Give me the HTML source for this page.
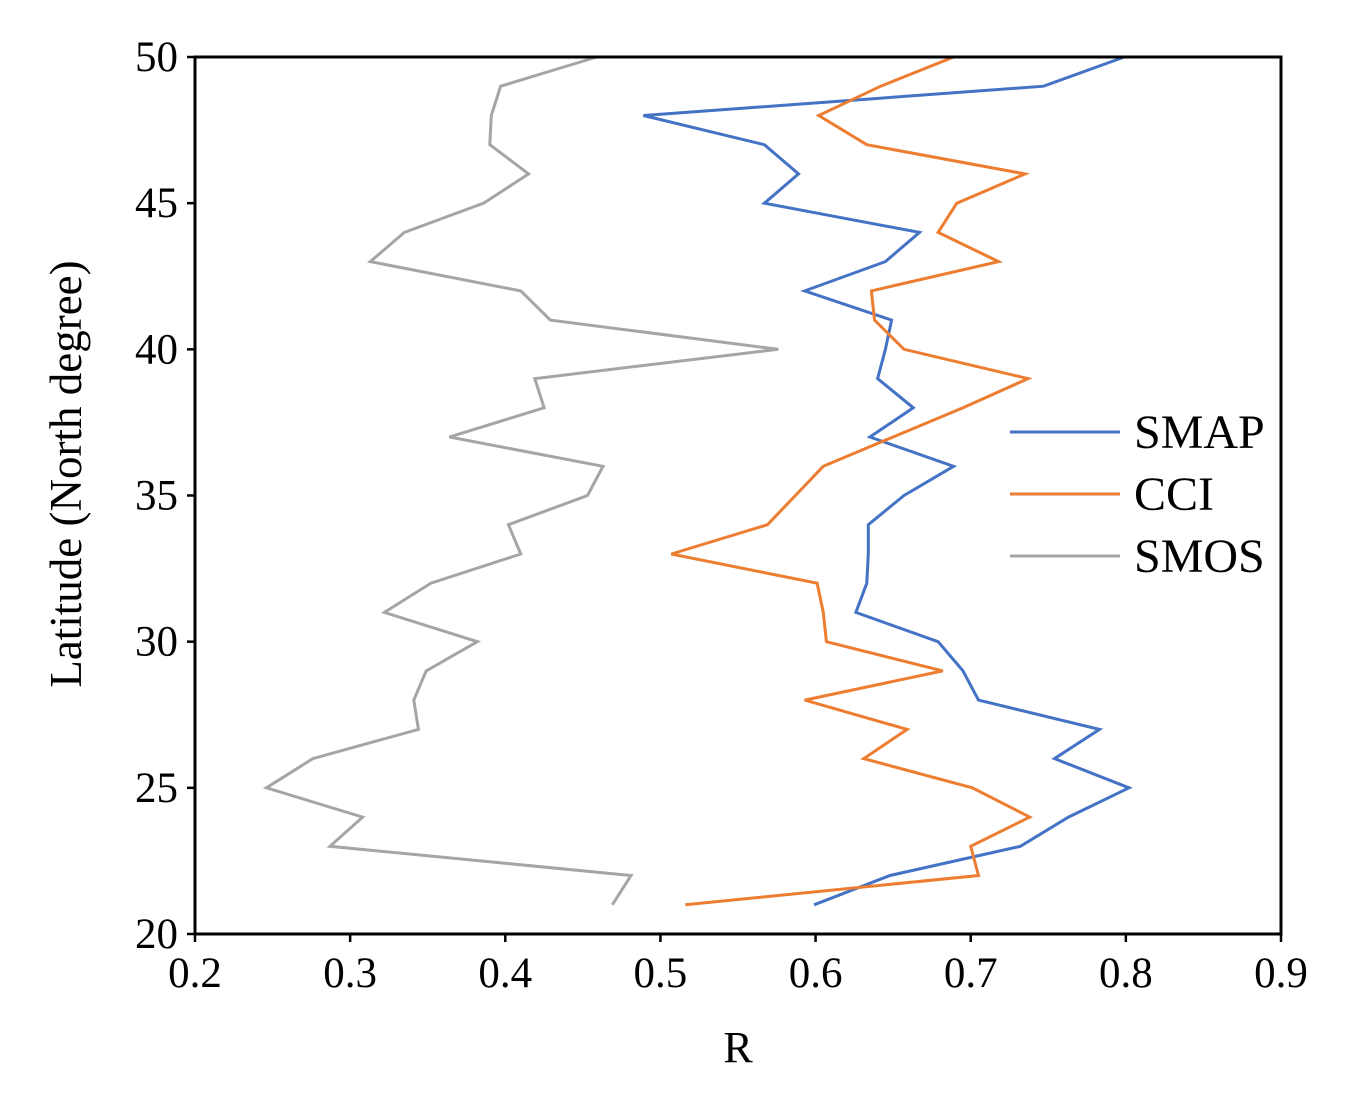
<!DOCTYPE html>
<html><head><meta charset="utf-8"><style>
body{margin:0;background:#fff}
svg text{font-family:"Liberation Serif",serif;fill:#000}
</style></head><body>
<svg id="chart" width="1347" height="1095" xmlns="http://www.w3.org/2000/svg"></svg>
<script>
const latitudes=[21,22,23,24,25,26,27,28,29,30,31,32,33,34,35,36,37,38,39,40,41,42,43,44,45,46,47,48,49,50];
const smap=[0.599,0.648,0.732,0.763,0.802,0.754,0.783,0.705,0.695,0.679,0.626,0.633,0.634,0.634,0.657,0.689,0.635,0.663,0.640,0.645,0.649,0.593,0.645,0.667,0.567,0.589,0.567,0.489,0.747,0.799];
const cci=[0.516,0.705,0.700,0.738,0.701,0.631,0.659,0.593,0.682,0.607,0.605,0.601,0.507,0.569,0.587,0.605,0.650,0.695,0.737,0.657,0.638,0.636,0.718,0.679,0.691,0.735,0.633,0.602,0.642,0.689];
const smos=[0.469,0.481,0.287,0.308,0.246,0.276,0.344,0.341,0.349,0.382,0.322,0.352,0.410,0.402,0.453,0.463,0.364,0.425,0.419,0.576,0.429,0.410,0.313,0.335,0.386,0.415,0.390,0.391,0.397,0.459];
const xTicks=[0.2,0.3,0.4,0.5,0.6,0.7,0.8,0.9];
const yTicks=[20,25,30,35,40,45,50];
const seriesNames=["SMAP","CCI","SMOS"];
const colors=["#4472C4","#ED7D31","#A5A5A5"];

const L=195,R=1281,T=57,B=934;
const xs=v=>L+(v-0.2)/0.7*(R-L);
const ys=v=>B-(v-20)/30*(B-T);
const svg=document.getElementById('chart');
const NS="http://www.w3.org/2000/svg";
function mk(tag,attrs,parent){const e=document.createElementNS(NS,tag);for(const k in attrs)e.setAttribute(k,attrs[k]);(parent||svg).appendChild(e);return e;}

const series=[smap,cci,smos];
series.forEach((vals,i)=>{
  const pts=vals.map((v,j)=>xs(v).toFixed(1)+","+ys(latitudes[j]).toFixed(1)).join(" ");
  const p=mk('polyline',{points:pts,fill:"none",stroke:colors[i],"stroke-width":3,"stroke-linejoin":"miter"});
  
  
});

const frame=mk('rect',{x:L,y:T,width:R-L,height:B-T,fill:"none",stroke:"#000","stroke-width":3});



xTicks.forEach(t=>{
  const x=xs(t);
  mk('line',{x1:x,y1:B,x2:x,y2:B+8,stroke:"#000","stroke-width":2.5});
  const tx=mk('text',{x:x,y:987,"font-size":43,"text-anchor":"middle"});
  tx.textContent=t.toFixed(1);
  
  
});
yTicks.forEach(t=>{
  const y=ys(t);
  mk('line',{x1:L-8,y1:y,x2:L,y2:y,stroke:"#000","stroke-width":2.5});
  const tx=mk('text',{x:178,y:y+14,"font-size":43,"text-anchor":"end"});
  tx.textContent=t;
  
  
});

const xt=mk('text',{x:738,y:1062,"font-size":44,"text-anchor":"middle"});
xt.textContent="R";


const yt=mk('text',{x:0,y:0,"font-size":45,"text-anchor":"middle",transform:"translate(81,474) rotate(-90)"});
yt.textContent="Latitude (North degree)";



seriesNames.forEach((n,i)=>{
  const y=432+i*62;
  const g=mk('g',{});
  
  
  mk('line',{x1:1010,y1:y,x2:1120,y2:y,stroke:colors[i],"stroke-width":3},g);
  const t=mk('text',{x:1134,y:y+16,"font-size":48},g);
  t.textContent=n;
});
</script>
</body></html>
